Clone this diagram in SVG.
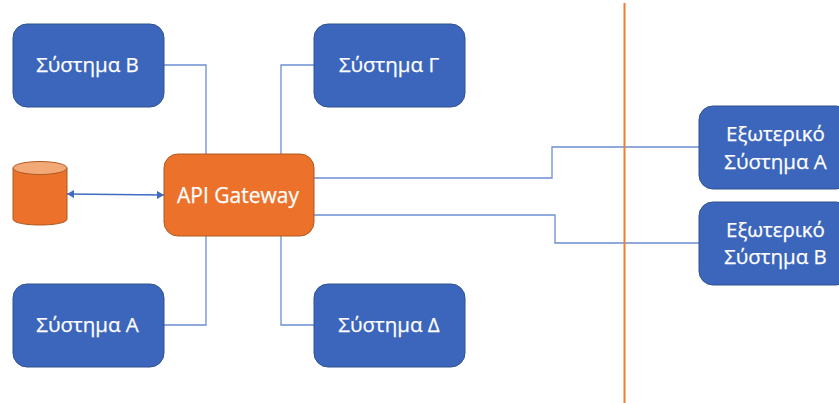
<svg xmlns="http://www.w3.org/2000/svg" width="839" height="403" viewBox="0 0 839 403">
<style>
.sys rect{fill:#3c66bb;stroke:#2f528f;stroke-width:1}
.gw rect{fill:#ec712a;stroke:#ae5a21;stroke-width:1}
text{font-family:"Open Sans","Noto Sans",sans-serif;font-size:20.500px;fill:#fff;stroke:#fff;stroke-width:.25;text-anchor:middle}
.gw text{font-size:21px}
.c{fill:none;stroke:#6d8fd2;stroke-width:1.300}
.d{fill:none;stroke:#3f6cc0;stroke-width:1.300}
</style>
<defs>
<marker id="a" markerUnits="userSpaceOnUse" markerWidth="8" markerHeight="8" refX="7" refY="4" orient="auto-start-reverse"><path d="M0 0L7 4L0 8Z" fill="#3f6cc0"/></marker>
</defs>
<rect width="839" height="403" fill="#fff"/>
<g id="connectors">
<path class="c" d="M164 65H206V154"/>
<path class="c" d="M314 65H281V154"/>
<path class="c" d="M164 325H206V236"/>
<path class="c" d="M314 325H281V236"/>
<path class="c" d="M314 178H552V147H699"/>
<path class="c" d="M314 215H555V243H699"/>
<path class="d" d="M67 194L164 195" marker-start="url(#a)" marker-end="url(#a)"/>
</g>
<path id="divider" d="M624.500 3V403" fill="none" stroke="#ed7d31" stroke-width="2"/>
<g id="sys-b" class="sys"><rect x="13" y="24" width="151" height="83" rx="14"/><text x="87.500" y="72">Σύστημα Β</text></g>
<g id="sys-g" class="sys"><rect x="314" y="24" width="151" height="83" rx="14"/><text x="389" y="72">Σύστημα Γ</text></g>
<g id="sys-a" class="sys"><rect x="13" y="284" width="151" height="83" rx="14"/><text x="87.500" y="332">Σύστημα Α</text></g>
<g id="sys-d" class="sys"><rect x="314" y="284" width="151" height="83" rx="14"/><text x="389" y="332">Σύστημα Δ</text></g>
<g id="ext-a" class="sys"><rect x="699" y="106" width="151" height="83" rx="14"/><text x="775.500" y="141">Εξωτερικό</text><text x="775.500" y="169">Σύστημα Α</text></g>
<g id="ext-b" class="sys"><rect x="699" y="202" width="151" height="83" rx="14"/><text x="775.500" y="237">Εξωτερικό</text><text x="775.500" y="264">Σύστημα Β</text></g>
<g id="gateway" class="gw"><rect x="164" y="154" width="150" height="82" rx="14"/><text x="238" y="203">API Gateway</text></g>
<g id="database">
<path d="M13 168V219C13 227 67 227 67 219V168Z" fill="#ec712a" stroke="#ae5a21"/>
<ellipse cx="40" cy="168" rx="27" ry="6.500" fill="#f3a878" stroke="#ae5a21"/>
</g>
</svg>
